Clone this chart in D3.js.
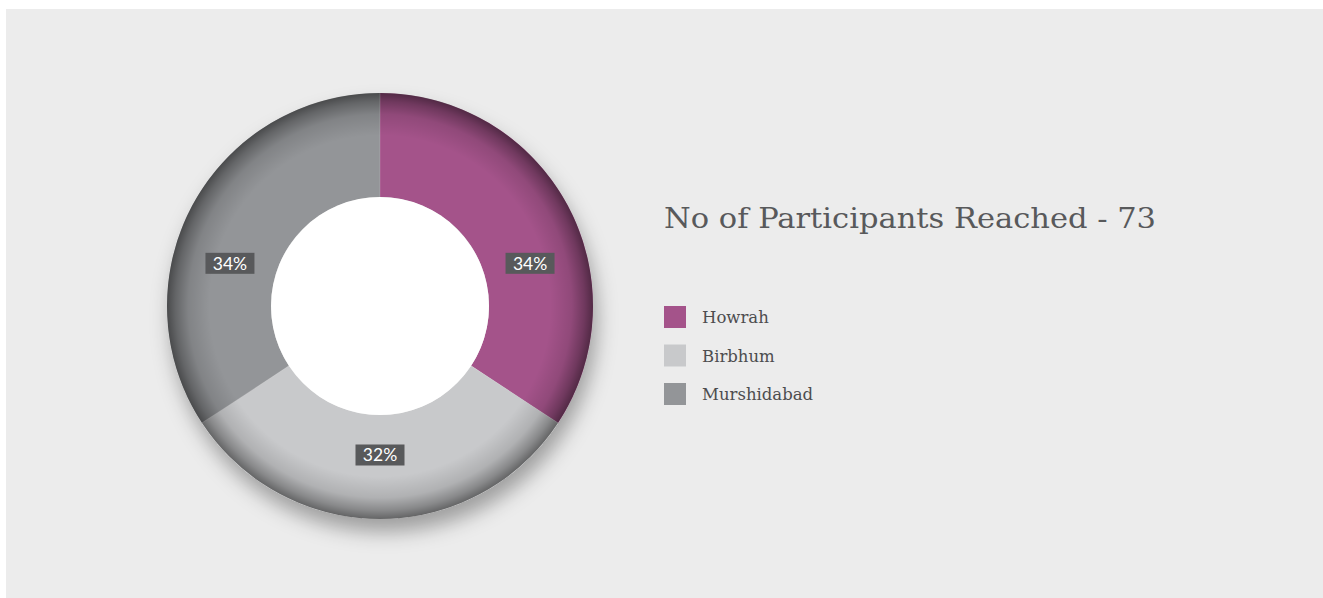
<!DOCTYPE html>
<html><head><meta charset="utf-8">
<script src="https://cdn.jsdelivr.net/npm/d3@7"></script>
<style>
html,body{margin:0;padding:0;background:#fff;}
svg{display:block;}
</style></head>
<body>
<svg id="chart" width="1323" height="598"></svg>
<script>
const categories = ["Howrah", "Birbhum", "Murshidabad"];
const participants = [25, 23, 25];
const percentLabels = ["34%", "32%", "34%"];
const colors = ["#a4538a", "#c8c9cb", "#939598"];
const title = "No of Participants Reached - 73";

const svg = d3.select("#chart");
const W = 1323, H = 598;
svg.append("rect").attr("x", 6).attr("y", 9).attr("width", W - 6).attr("height", H - 9).attr("fill", "#ececec");

const cx = 380, cy = 306, R = 213, r0 = 109;
const defs = svg.append("defs");
const f = defs.append("filter").attr("id", "shadow").attr("x", "-30%").attr("y", "-30%").attr("width", "160%").attr("height", "160%");
f.append("feDropShadow").attr("dx", 4).attr("dy", 13).attr("stdDeviation", 10).attr("flood-color", "#000").attr("flood-opacity", 0.33);

const g = defs.append("radialGradient").attr("id", "shade").attr("gradientUnits", "userSpaceOnUse")
  .attr("cx", 0).attr("cy", 0).attr("r", R);
[[0, 0], [0.8, 0], [0.9, 0.12], [0.96, 0.32], [1, 0.5]].forEach(([o, a]) =>
  g.append("stop").attr("offset", o).attr("stop-color", "#000").attr("stop-opacity", a));

const pie = d3.pie().sort(null).value(d => d)(participants);
const arc = d3.arc().innerRadius(r0).outerRadius(R);
const color = d3.scaleOrdinal().domain(categories).range(colors);

const root = svg.append("g").attr("transform", `translate(${cx},${cy})`);
const donut = root.append("g").attr("filter", "url(#shadow)");
donut.selectAll("path.slice").data(pie).join("path").attr("class", "slice")
  .attr("d", arc).attr("fill", (d, i) => color(categories[i]));
root.append("path").attr("d", d3.arc().innerRadius(r0).outerRadius(R).startAngle(0).endAngle(2 * Math.PI)())
  .attr("fill", "url(#shade)");
root.selectAll("path.sep").data(pie).join("path").attr("class", "sep")
  .attr("d", d => `M${r0 * Math.sin(d.startAngle)},${-r0 * Math.cos(d.startAngle)}L${R * Math.sin(d.startAngle)},${-R * Math.cos(d.startAngle)}`)
  .attr("stroke", "#fff").attr("stroke-opacity", 0.2).attr("stroke-width", 0.8);
root.append("circle").attr("r", r0).attr("fill", "#fff");

// labels: mid-angle eased toward the horizontal for side slices
const labelR = 153;
function labelPos(d) {
  const a = (d.startAngle + d.endAngle) / 2;
  const target = a < Math.PI ? Math.PI / 2 : 3 * Math.PI / 2;
  const b = Math.abs(a - Math.PI) < 1e-6 ? a : a + (target - a) * 0.44;
  const rr = Math.abs(a - Math.PI) < 1e-6 ? labelR - 4 : labelR + 3;
  return [rr * Math.sin(b), -rr * Math.cos(b)];
}
const lbl = root.selectAll("g.lbl").data(pie).join("g").attr("class", "lbl")
  .attr("transform", d => { const [x, y] = labelPos(d); return `translate(${x},${y})`; });
lbl.append("rect").attr("x", -24.5).attr("y", -10.5).attr("width", 49).attr("height", 21).attr("fill", "#58595b");
lbl.append("text").attr("text-anchor", "middle").attr("dy", "0.36em")
  .attr("font-family", "Lato, 'Open Sans', sans-serif").attr("font-size", 17.5).attr("fill", "#fff")
  .text((d, i) => percentLabels[i]);

// title
svg.append("text").attr("x", 664).attr("y", 228).attr("font-family", "'DejaVu Serif', serif")
  .attr("font-size", 28).attr("fill", "#58595b").attr("textLength", 492).attr("lengthAdjust", "spacingAndGlyphs").text(title);

// legend
const y0 = 306, step = 38.5;
const leg = svg.append("g").selectAll("g").data(categories).join("g")
  .attr("transform", (d, i) => `translate(664,${y0 + i * step})`);
leg.append("rect").attr("width", 22).attr("height", 22).attr("fill", d => color(d));
leg.append("text").attr("x", 38).attr("y", 17).attr("font-family", "'DejaVu Serif', serif")
  .attr("font-size", 16.5).attr("fill", "#4d4d4f").text(d => d);
</script>
</body></html>
